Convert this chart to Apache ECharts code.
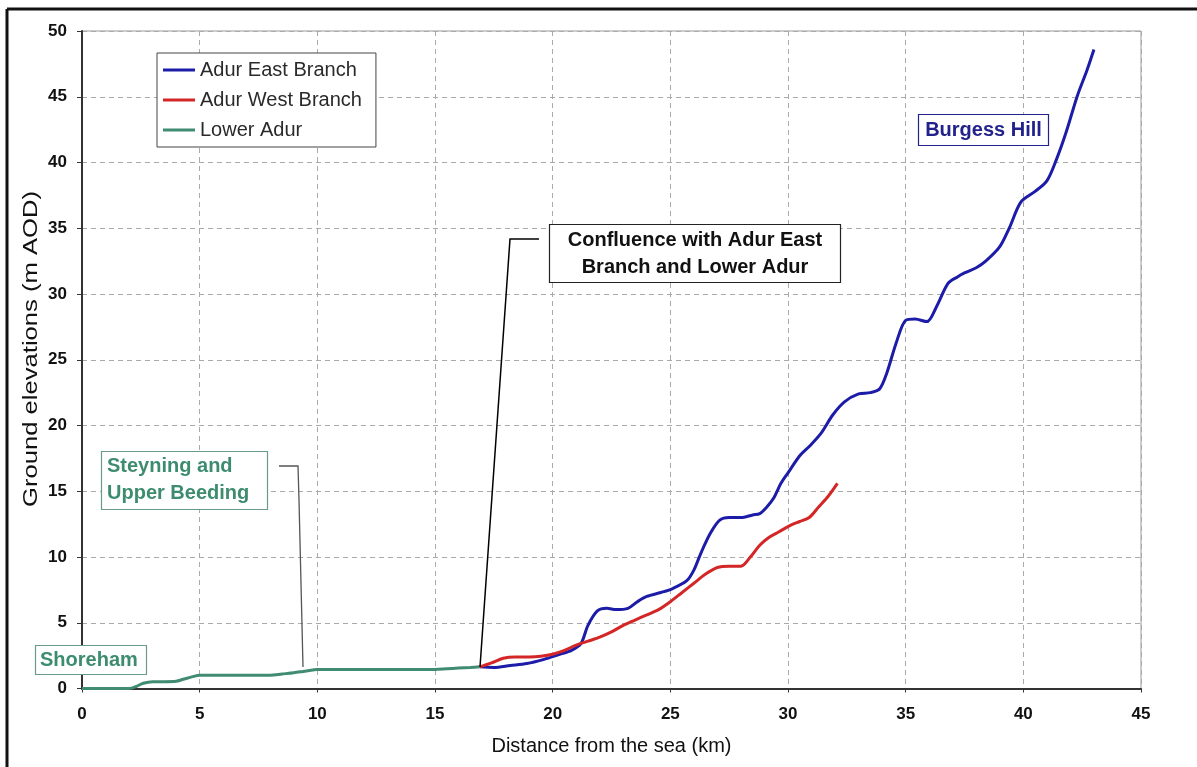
<!DOCTYPE html>
<html>
<head>
<meta charset="utf-8">
<script src="https://cdn.jsdelivr.net/npm/echarts@6/dist/echarts.min.js"></script>
<style>
html,body{margin:0;padding:0;background:#fff;}
#c{width:1197px;height:767px;}
</style>
</head>
<body>
<div id="c"></div>
<script>
// ---- Data (km from the sea, ground elevation m AOD) ----
const lowerAdurX = [0, 1, 2, 2.3, 2.6, 3, 3.5, 4, 4.3, 4.7, 5, 6, 7, 8, 8.5, 9, 9.4, 9.8, 10, 11, 12, 13, 14, 15, 15.5, 16, 16.5, 16.9];
const lowerAdurY = [0, 0, 0, 0.15, 0.4, 0.52, 0.52, 0.55, 0.7, 0.9, 1.0, 1.0, 1.0, 1.0, 1.1, 1.2, 1.3, 1.4, 1.45, 1.45, 1.45, 1.45, 1.45, 1.45, 1.5, 1.55, 1.6, 1.65];

const eastX = [16.9, 17.5, 18.2, 18.9, 19.6, 20.3, 20.8, 21.2, 21.5, 21.9, 22.3, 22.7, 23.2, 23.6, 24.0, 24.6, 25.1, 25.7, 26.0, 26.3, 26.7, 27.1, 27.5, 28.0, 28.5, 28.8, 29.1, 29.4, 29.7, 30.0, 30.5, 30.9, 31.4, 31.9, 32.4, 33.0, 33.5, 33.9, 34.2, 34.6, 35.0, 35.4, 35.9, 36.3, 36.8, 37.2, 37.5, 38.0, 38.4, 39.0, 39.4, 39.9, 40.5, 41.0, 41.4, 41.8, 42.3, 42.7, 43.0];
const eastY = [1.65, 1.6, 1.75, 1.9, 2.2, 2.6, 2.9, 3.4, 4.8, 5.9, 6.1, 6.0, 6.1, 6.6, 7.0, 7.3, 7.6, 8.2, 9.0, 10.3, 11.8, 12.8, 13.0, 13.0, 13.2, 13.3, 13.8, 14.5, 15.6, 16.4, 17.7, 18.4, 19.4, 20.8, 21.8, 22.4, 22.5, 22.8, 24.0, 26.3, 28.0, 28.1, 27.9, 29.0, 30.8, 31.3, 31.6, 32.0, 32.5, 33.6, 35.0, 37.0, 37.8, 38.6, 40.2, 42.2, 45.1, 47.0, 48.6];

const westX = [16.9, 17.4, 17.9, 18.4, 19.0, 19.5, 20.0, 20.5, 21.0, 21.5, 22.0, 22.5, 23.0, 23.5, 24.0, 24.5, 25.0, 25.5, 26.0, 26.5, 27.0, 27.5, 28.0, 28.4, 28.8, 29.2, 29.6, 30.1, 30.5, 30.9, 31.3, 31.7, 32.1];
const westY = [1.65, 1.95, 2.3, 2.4, 2.4, 2.45, 2.6, 2.9, 3.3, 3.6, 3.9, 4.3, 4.8, 5.2, 5.6, 6.0, 6.6, 7.3, 8.0, 8.7, 9.2, 9.3, 9.3, 10.0, 10.9, 11.5, 11.9, 12.4, 12.7, 13.0, 13.8, 14.6, 15.6];

const seriesNames = ['Adur East Branch', 'Adur West Branch', 'Lower Adur'];
const xTicks = [0, 5, 10, 15, 20, 25, 30, 35, 40, 45];
const yTicks = [0, 5, 10, 15, 20, 25, 30, 35, 40, 45, 50];
const xTitle = 'Distance from the sea (km)';
const yTitle = 'Ground elevations (m AOD)';

const zip = (xs, ys) => xs.map((x, i) => [x, ys[i]]);

const textFont = "'Liberation Sans', Arial, sans-serif";

// y title is drawn stretched along its length, as in the reference
const yTitleFont = "20px 'Liberation Sans', Arial, sans-serif";
const mctx = document.createElement('canvas').getContext('2d');
mctx.font = yTitleFont;
const yTitleScale = 316 / mctx.measureText(yTitle).width;

const chart = echarts.init(document.getElementById('c'), null, {renderer: 'canvas'});

const option = {
  animation: false,
  backgroundColor: '#ffffff',
  grid: {
    left: 82, top: 31, right: 56, bottom: 78.5,
    show: true, borderColor: '#999', borderWidth: 1, backgroundColor: 'transparent'
  },
  legend: {
    data: seriesNames,
    orient: 'vertical',
    left: 157, top: 53,
    backgroundColor: '#fff',
    borderColor: '#444', borderWidth: 1,
    padding: [7, 14, 7, 6],
    itemGap: 10,
    itemWidth: 32, itemHeight: 3,
    icon: 'rect',
    textStyle: {fontFamily: textFont, fontSize: 20, color: '#2a2a2a', lineHeight: 20}
  },
  xAxis: {
    type: 'value', min: xTicks[0], max: xTicks[xTicks.length - 1], interval: 5,
    name: xTitle, nameLocation: 'middle', nameGap: 48,
    nameTextStyle: {fontFamily: textFont, fontSize: 20, color: '#111'},
    axisLine: {show: true, onZero: false, lineStyle: {color: '#333', width: 2}},
    axisTick: {show: true, length: 4, lineStyle: {color: '#333'}},
    axisLabel: {fontFamily: textFont, fontWeight: 'bold', fontSize: 17, color: '#111', margin: 17},
    splitLine: {show: true, lineStyle: {color: '#aaa', type: [5, 4], width: 1}}
  },
  yAxis: {
    type: 'value', min: yTicks[0], max: yTicks[yTicks.length - 1], interval: 5,
    axisLine: {show: true, onZero: false, lineStyle: {color: '#333', width: 2}},
    axisTick: {show: true, length: 5, lineStyle: {color: '#333'}},
    axisLabel: {fontFamily: textFont, fontWeight: 'bold', fontSize: 17, color: '#111', margin: 15},
    splitLine: {show: true, lineStyle: {color: '#aaa', type: [5, 4], width: 1}}
  },
  series: [
    {name: seriesNames[0], type: 'line', data: zip(eastX, eastY), showSymbol: false, smooth: 0.3,
     lineStyle: {color: '#1c1ca8', width: 3}, itemStyle: {color: '#1c1ca8'}, z: 3},
    {name: seriesNames[1], type: 'line', data: zip(westX, westY), showSymbol: false, smooth: 0.3,
     lineStyle: {color: '#d42626', width: 3}, itemStyle: {color: '#d42626'}, z: 4},
    {name: seriesNames[2], type: 'line', data: zip(lowerAdurX, lowerAdurY), showSymbol: false, smooth: 0.3,
     lineStyle: {color: '#3f8c72', width: 3}, itemStyle: {color: '#3f8c72'}, z: 5}
  ],
  graphic: [
    // outer frame (top and left edges)
    {type: 'line', shape: {x1: 7, y1: 9, x2: 1197, y2: 9}, style: {stroke: '#111', lineWidth: 3}, z: 100},
    {type: 'line', shape: {x1: 7, y1: 9, x2: 7, y2: 767}, style: {stroke: '#111', lineWidth: 3}, z: 100},
    // y axis title
    {type: 'text', x: 31, y: 349, rotation: Math.PI / 2, scaleX: yTitleScale, scaleY: 1,
     style: {text: yTitle, font: yTitleFont, fill: '#111', textAlign: 'center', textVerticalAlign: 'middle'}, z: 60},
    // Confluence annotation
    {type: 'polyline', shape: {points: [[539, 239], [510, 239], [480, 667]]}, style: {stroke: '#000', lineWidth: 1.5, fill: null}, z: 50},
    {type: 'rect', shape: {x: 549.5, y: 224.5, width: 291, height: 58}, style: {fill: '#fff', stroke: '#222', lineWidth: 1.2}, z: 50},
    {type: 'text', x: 695, y: 253.5, style: {text: 'Confluence with Adur East\nBranch and Lower Adur', font: "bold 20px 'Liberation Sans', Arial, sans-serif", fill: '#111', textAlign: 'center', textVerticalAlign: 'middle', lineHeight: 27}, z: 51},
    // Steyning annotation
    {type: 'polyline', shape: {points: [[279, 466], [298, 466], [299, 500], [303, 667]]}, style: {stroke: '#555', lineWidth: 1.3, fill: null}, z: 50},
    {type: 'rect', shape: {x: 101.5, y: 451.5, width: 166, height: 58}, style: {fill: '#fff', stroke: '#6a9a88', lineWidth: 1.2}, z: 50},
    {type: 'text', x: 107, y: 479.5, style: {text: 'Steyning and\nUpper Beeding', font: "bold 20px 'Liberation Sans', Arial, sans-serif", fill: '#3d8c70', textAlign: 'left', textVerticalAlign: 'middle', lineHeight: 27}, z: 51},
    // Shoreham
    {type: 'rect', shape: {x: 35.5, y: 645.5, width: 111, height: 29}, style: {fill: '#fff', stroke: '#6a9a88', lineWidth: 1.2}, z: 50},
    {type: 'text', x: 40, y: 660, style: {text: 'Shoreham', font: "bold 20px 'Liberation Sans', Arial, sans-serif", fill: '#3d8c70', textAlign: 'left', textVerticalAlign: 'middle'}, z: 51},
    // Burgess Hill
    {type: 'rect', shape: {x: 918.5, y: 114.5, width: 130, height: 31}, style: {fill: '#fff', stroke: '#22228c', lineWidth: 1.2}, z: 50},
    {type: 'text', x: 983.5, y: 130, style: {text: 'Burgess Hill', font: "bold 20px 'Liberation Sans', Arial, sans-serif", fill: '#22228c', textAlign: 'center', textVerticalAlign: 'middle'}, z: 51}
  ]
};
chart.setOption(option);
</script>
</body>
</html>
